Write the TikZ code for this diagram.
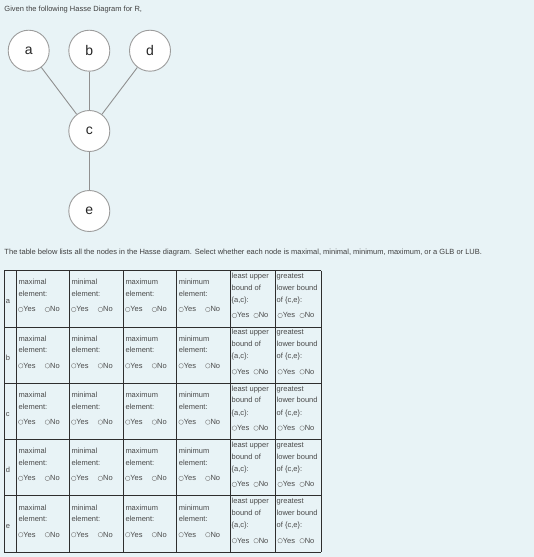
\documentclass[tikz,border=0pt]{standalone}
\usepackage{fontspec}
\setmainfont{Liberation Sans}
\definecolor{bg}{HTML}{E8F3F6}
\definecolor{nodegray}{HTML}{9C9C9C}
\definecolor{edgegray}{HTML}{909090}
\definecolor{txtgray}{HTML}{4A4A4A}
\definecolor{gridcol}{HTML}{2E2E2E}
\begin{document}
\begin{tikzpicture}[x=1pt,y=-1pt,
  hnode/.style={circle, draw=nodegray, fill=white, line width=0.9pt, minimum size=41pt, inner sep=0pt, font=\fontsize{14}{14}\selectfont, text=black!85},
  hedge/.style={draw=edgegray, line width=0.9pt},
  ttext/.style={anchor=base west, inner sep=0pt, font=\fontsize{7.5}{8}\selectfont, text=txtgray},
  gridline/.style={draw=gridcol, line width=0.9pt},
  radio/.style={draw=txtgray!70, line width=0.4pt}]
\fill[bg] (0,0) rectangle (534,557);
\useasboundingbox (0,0) rectangle (534,557);
\node[ttext, text=black!75] (title) at (4.3,11.5) {Given the following Hasse Diagram for R,};
% Hasse diagram
\node[hnode] (a) at (28.7,50.7) {a};
\node[hnode] (b) at (89.3,50.7) {b};
\node[hnode] (d) at (150,50.7) {d};
\node[hnode] (c) at (89.3,131) {c};
\node[hnode] (e) at (89.3,211) {e};
\draw[hedge] (a) -- (c);
\draw[hedge] (b) -- (c);
\draw[hedge] (d) -- (c);
\draw[hedge] (c) -- (e);
\node[ttext, text=black!75] (intro) at (4.3,254.8) {The table below lists all the nodes in the Hasse diagram. Select whether each node is maximal, minimal, minimum, maximum, or a GLB or LUB.};
% table grid
\foreach \x in {4.3,16.3,69.3,123.3,176.7,230,275,321.3}
  \draw[gridline] (\x,270.7) -- (\x,552.2);
\foreach \i in {0,...,5}
  \draw[gridline] (4.3,270.7+56.3*\i) -- (321.3,270.7+56.3*\i);
% table content
\foreach \lab [count=\i from 0] in {a,b,c,d,e} {
  \pgfmathsetmacro\tp{270.7+56.3*\i}
  \node[ttext] (row\i) at (5.6,\tp+33) {\lab};
  \foreach \L/\wa/\wb [count=\j] in {16.3/maximal/element:,69.3/minimal/element:,123.3/maximum/element:,176.7/minimum/element:} {
    \node[ttext] (c\i\j a) at (\L+2,\tp+14.1) {\wa};
    \node[ttext] (c\i\j b) at (\L+2,\tp+25.8) {\wb};
    \draw[radio] (\L+4.4,\tp+38.8) circle (2.3);
    \node[ttext] (c\i\j y) at (\L+6.9,\tp+41.1) {Yes};
    \draw[radio] (\L+31.1,\tp+38.8) circle (2.3);
    \node[ttext] (c\i\j n) at (\L+33.6,\tp+41.1) {No};
  }
  \node[ttext] (l\i a) at (231.5,\tp+7.8) {least upper};
  \node[ttext] (l\i b) at (231.5,\tp+19.5) {bound of};
  \node[ttext] (l\i c) at (231.5,\tp+31.8) {\{a,c\}:};
  \draw[radio] (234.4,\tp+44.8) circle (2.3);
  \node[ttext] (l\i y) at (236.9,\tp+47.1) {Yes};
  \draw[radio] (256.1,\tp+44.8) circle (2.3);
  \node[ttext] (l\i n) at (258.6,\tp+47.1) {No};
  \node[ttext] (g\i a) at (276.5,\tp+7.8) {greatest};
  \node[ttext] (g\i b) at (276.5,\tp+19.5) {lower bound};
  \node[ttext] (g\i c) at (276.5,\tp+31.8) {of \{c,e\}:};
  \draw[radio] (280.1,\tp+44.8) circle (2.3);
  \node[ttext] (g\i y) at (282.6,\tp+47.1) {Yes};
  \draw[radio] (302.1,\tp+44.8) circle (2.3);
  \node[ttext] (g\i n) at (304.6,\tp+47.1) {No};
}
\end{tikzpicture}
\end{document}
